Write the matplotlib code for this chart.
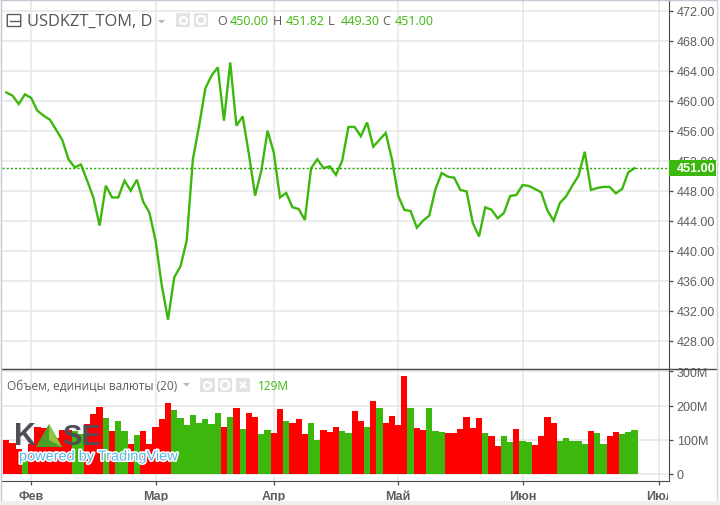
import matplotlib
matplotlib.use("Agg")
import matplotlib.pyplot as plt
import matplotlib.patheffects as pe
from matplotlib.lines import Line2D
from matplotlib.patches import Rectangle, Polygon, FancyBboxPatch
from matplotlib.transforms import Bbox

plt.rcParams["font.family"] = ["Liberation Sans", "DejaVu Sans"]

# closes per trading day
price = [461.1, 460.67, 459.56, 460.85, 460.36, 458.67, 458.0, 457.47, 456.14, 454.76,
         452.18, 451.1, 451.5, 449.34, 447.1, 443.34, 448.67, 447.1, 447.1, 449.34,
         448.0, 449.47, 446.54, 445.1, 441.34, 435.34, 430.8, 436.45, 437.9, 441.34,
         452.2, 456.67, 461.65, 463.34, 464.45, 457.34, 465.1, 456.67, 457.9, 452.9,
         447.34, 450.67, 456.0, 453.1, 447.1, 447.7, 445.8, 445.56, 444.1, 451.0,
         452.2, 451.0, 451.25, 450.1, 452.0, 456.5, 456.5, 455.25, 457.1, 453.87,
         454.8, 455.7, 452.2, 447.34, 445.43, 445.3, 443.07, 444.0, 444.67, 448.23,
         450.36, 449.87, 449.74, 448.1, 447.9, 443.7, 441.9, 445.78, 445.47, 444.32,
         445.03, 447.3, 447.43, 448.76, 448.63, 448.23, 447.78, 445.34, 444.0, 446.36,
         447.25, 448.67, 450.0, 453.2, 448.1, 448.36, 448.5, 448.5, 447.65, 448.23,
         450.45, 451.0]

# volume in millions
volume = [99, 90, 72, 48, 86, 138, 133, 106, 106, 129, 129, 126, 116, 145, 176, 196, 164,
          126, 156, 126, 86, 113, 126, 86, 138, 161, 208, 188, 164, 142, 171, 150, 159,
          145, 177, 138, 167, 193, 132, 178, 165, 117, 129, 120, 189, 156, 148, 159, 117,
          148, 99, 129, 123, 138, 126, 120, 183, 156, 138, 214, 192, 148, 168, 142, 286,
          192, 135, 129, 192, 126, 123, 120, 120, 132, 165, 135, 162, 120, 112, 81, 112,
          93, 132, 95, 92, 83, 112, 165, 148, 95, 105, 95, 95, 86, 126, 120, 86, 112, 123,
          115, 123, 129]
vol_dir = list(("rrr g rrrrrrr gg rrr g r gg r g rrrrr gggggggg r g r g rr gg rr g rrr gg rrr "
                "gg rr g r g rrrr g rr ggg rrrrrr g rr gg r gg rrrr ggggg r gg rr ggg").replace(" ", ""))

month_idx = [4, 24, 43, 63, 83, 105]
month_lab = ["Фев", "Мар", "Апр", "Май", "Июн", "Июл"]
price_ticks = [428, 432, 436, 440, 444, 448, 452, 456, 460, 464, 468, 472]
vol_ticks = [0, 100, 200, 300]
vol_lab = ["0", "100M", "200M", "300M"]
last = 451.00

W, H = 720, 506
GREEN = "#3cb70d"
RED = "#ff0000"
GRID = "#e6e6e6"
AXC = "#4a4a4a"
TXT = "#5e5e5e"
OPEN = "Open Sans"

# pixel layout
left, right = 2, 669
top, sep, bottom = 2, 369.5, 481.5
x0, step = 6.3, 6.22
def fx(px): return px / W
def fy(py): return 1 - py / H

fig = plt.figure(figsize=(W / 100, H / 100), dpi=100, facecolor="white")
ax = fig.add_axes([fx(left), fy(sep), fx(right - left), (sep - top) / H])
ax2 = fig.add_axes([fx(left), fy(bottom), fx(right - left), (bottom - sep) / H])

xlim = ((left - x0) / step, (right - x0) / step)
for a in (ax, ax2):
    a.set_xlim(xlim)
    a.set_xticks(month_idx)
    a.grid(True, color=GRID, lw=1.1)
    a.set_axisbelow(True)
    a.yaxis.tick_right()
    a.spines["top"].set_visible(False)
    a.spines["left"].set_visible(False)
    a.spines["right"].set_color(AXC)
    a.spines["bottom"].set_color(AXC)
    a.tick_params(axis="y", length=3, width=0.9, color=AXC, labelcolor=TXT, labelsize=9, pad=2.6)

# price pane
ax.plot(range(len(price)), price, color=GREEN, lw=1.7, solid_joinstyle="miter")
ax.axhline(last, color="#22a800", lw=1, ls=(0, (1.5, 1.5)))
ax.set_ylim(460 - (sep - 101.7) / 7.5, 460 - (top - 101.7) / 7.5)
ax.set_yticks(price_ticks)
ax.set_yticklabels(["%.2f" % t for t in price_ticks])
ax.tick_params(axis="x", length=0, labelbottom=False)

# last price flag on the axis
fig.add_artist(Rectangle((fx(669), fy(177)), 47 / W, 16 / H, transform=fig.transFigure, fc=GREEN, ec="none", zorder=10))
fig.text(fx(677), fy(169), "%.2f" % last, color="white", fontweight="bold", fontsize=9,
         va="center", ha="left", zorder=11)

# volume pane
colors = [RED if d == "r" else GREEN for d in vol_dir]
ax2.bar(range(len(volume)), volume, width=1.0, color=colors, linewidth=0, antialiased=False)
ax2.set_ylim((474.7 - bottom) / 0.341, (474.7 - sep) / 0.341)
ax2.set_yticks(vol_ticks)
ax2.set_yticklabels(vol_lab)
ax2.set_xticklabels(month_lab)
ax2.tick_params(axis="x", length=3, width=0.9, color=AXC, labelcolor=TXT, labelsize=9, pad=3.8)
for lab in ax2.get_xticklabels():
    lab.set_fontweight("bold")
    lab.set_clip_on(True)
    lab.set_clip_box(Bbox([[0, 0], [667.7, H]]))

# frame bits outside the axes
fig.add_artist(Line2D([fx(left), fx(717)], [fy(sep), fy(sep)], color=AXC, lw=1))
fig.add_artist(Line2D([fx(1.3), fx(1.3)], [fy(1), fy(501)], color="#c6c6d4", lw=1))
fig.add_artist(Line2D([fx(1), fx(717)], [fy(1), fy(1)], color="#c6c6d4", lw=1))
fig.add_artist(Line2D([fx(716.7), fx(716.7)], [fy(1), fy(501)], color="#d4d4de", lw=1))
fig.add_artist(Rectangle((0, 0), 1, fy(501.5), transform=fig.transFigure, fc="#edf0f3", ec="none"))

# legend row, price
def box(x, y, w, h, fc="#e3e3e3"):
    fig.add_artist(Rectangle((fx(x), fy(y + h)), w / W, h / H, transform=fig.transFigure, fc=fc, ec="none"))
def icon(x, y, marker, ms):
    fig.add_artist(Line2D([fx(x)], [fy(y)], marker=marker, ms=ms, mfc="none", mec="white", mew=1.6, ls=""))
def caret(x, y):
    fig.add_artist(Polygon([(fx(x), fy(y)), (fx(x + 7), fy(y)), (fx(x + 3.5), fy(y + 3.5))],
                           transform=fig.transFigure, fc="#b8b8b8", ec="none"))

fig.add_artist(FancyBboxPatch((fx(8), fy(27)), 12 / W, 11 / H, transform=fig.transFigure,
                              boxstyle="round,pad=0.001", fc="white", ec="#5a5a5a", lw=1))
fig.add_artist(Line2D([fx(10), fx(18.5)], [fy(21.5), fy(21.5)], color="#5a5a5a", lw=1))
fig.text(fx(27), fy(21.5), "USDKZT_TOM, D", family=OPEN, fontsize=11.8, color="#535353", va="center")
caret(158, 21)
box(176, 14, 14, 14); icon(183, 21, "o", 5)
box(194, 14, 14, 14); icon(201, 21, "8", 6)

ohlc = [("O", "450.00", 217), ("H", "451.82", 273), ("L", "449.30", 328), ("C", "451.00", 382)]
for name, val, xp in ohlc:
    fig.text(fx(xp), fy(21.5), name, family=OPEN, fontsize=9, color="#5a5a5a", va="center")
    fig.text(fx(xp + 13), fy(21.5), val, family=OPEN, fontsize=9, color=GREEN, va="center")

# legend row, volume
fig.text(fx(7), fy(386), "Объем, единицы валюты (20)", family=OPEN, fontsize=8.6, color="#5e5e5e", va="center")
caret(183, 384)
box(200, 379, 14.5, 14); icon(207, 386, "o", 5)
box(218, 379, 14.5, 14); icon(225, 386, "8", 6)
box(236, 379, 14, 14); icon(243, 386, "x", 5)
fig.text(fx(258), fy(386), "129M", family=OPEN, fontsize=8.6, color=GREEN, va="center")

# logo
fig.text(fx(14), fy(437), "K", fontsize=22, fontweight="bold", color="#4f4f58", va="center", zorder=20)
fig.add_artist(Polygon([(fx(36), fy(448)), (fx(49), fy(425)), (fx(62), fy(448))],
                       transform=fig.transFigure, fc="#4d9e25", ec="none", zorder=20))
fig.add_artist(Polygon([(fx(49), fy(425)), (fx(49), fy(441)), (fx(62), fy(448))],
                       transform=fig.transFigure, fc="#8cc63f", ec="none", zorder=21))
fig.text(fx(62), fy(437), "SE", fontsize=21, fontweight="bold", color="#4f4f58", va="center", zorder=20)
fig.text(fx(19), fy(457.5), "powered by TradingView", fontsize=10.45, color="#5bb6e6", va="center", zorder=22,
         path_effects=[pe.withStroke(linewidth=2.2, foreground="white")])

fig.savefig("out.png", dpi=100)
